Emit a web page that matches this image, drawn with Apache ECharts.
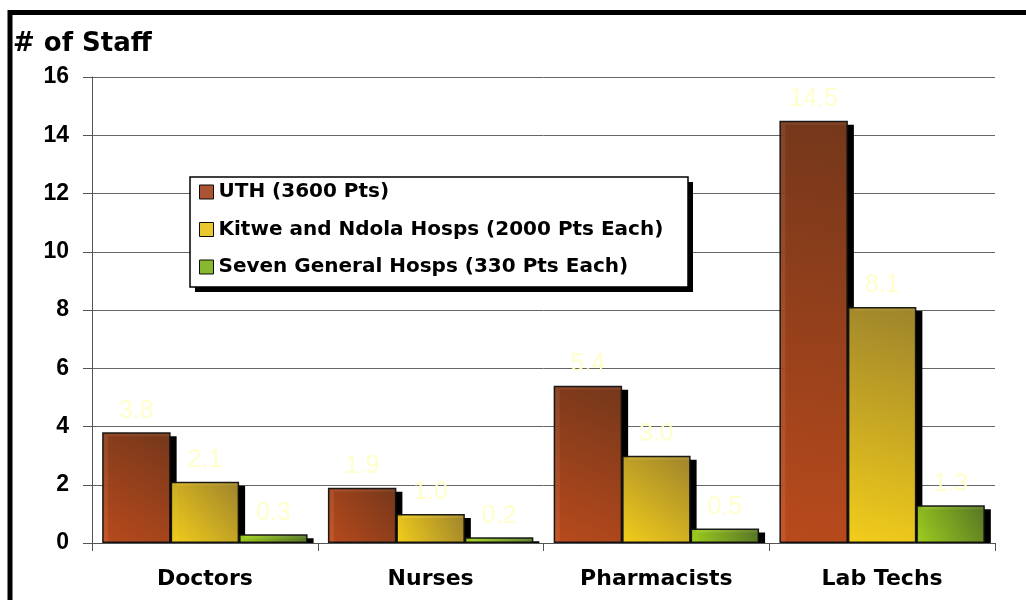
<!DOCTYPE html>
<html><head><meta charset="utf-8">
<script src="https://cdn.jsdelivr.net/npm/echarts@6/dist/echarts.min.js"></script>
<style>html,body{margin:0;padding:0;background:#fff}#c{width:1026px;height:600px}</style>
</head><body><div id="c"></div>
<script>
const categories = ['Doctors', 'Nurses', 'Pharmacists', 'Lab Techs'];
const seriesNames = ['UTH (3600 Pts)', 'Kitwe and Ndola Hosps (2000 Pts Each)', 'Seven General Hosps (330 Pts Each)'];
const uth = [3.8, 1.9, 5.4, 14.5];
const kitweNdola = [2.1, 1.0, 3.0, 8.1];
const general = [0.3, 0.2, 0.5, 1.3];
const yTicks = [0, 2, 4, 6, 8, 10, 12, 14, 16];

const GAP = 0.09;
function grad(light, dark) {
  return new echarts.graphic.LinearGradient(0, 1, 1, 0, [
    {offset: 0, color: light}, {offset: 1, color: dark}
  ]);
}
const fills = [grad('#C24E1E', '#7A3A1C'), grad('#FFD81C', '#A68A2E'), grad('#A6D820', '#5A7A26')];
const legendColors = ['#A84A26', '#E8C422', '#82B424'];
const data = [uth, kitweNdola, general];

const shadowData = [];
data.forEach((arr, s) => arr.forEach((v, c) => shadowData.push([c, v, s])));

const boldDV = 'DejaVu Sans, Verdana, sans-serif';
const arial = 'Liberation Sans, Arial, sans-serif';

const chart = echarts.init(document.getElementById('c'), null, {renderer: 'canvas'});
chart.setOption({
  animation: false,
  backgroundColor: '#fff',
  grid: {left: 92, right: 31, top: 77, bottom: 57, containLabel: false},
  title: {text: '# of Staff', left: 13, top: 31, padding: 0,
    textStyle: {fontFamily: boldDV, fontWeight: 'bold', fontSize: 26, color: '#000'}},
  legend: {
    orient: 'vertical', left: 199, top: 182, itemGap: 17.5, z: 10,
    icon: 'rect', itemWidth: 14, itemHeight: 14, padding: 0,
    backgroundColor: 'transparent', borderWidth: 0,
    textStyle: {fontFamily: boldDV, fontWeight: 'bold', fontSize: 20, color: '#000'},
    data: seriesNames.map((n, i) => ({name: n, itemStyle: {color: legendColors[i], borderColor: '#000', borderWidth: 1}}))
  },
  xAxis: {
    type: 'category', data: categories,
    axisLine: {lineStyle: {color: '#555', width: 1}},
    axisTick: {show: true, length: 8, lineStyle: {color: '#555'}},
    axisLabel: {fontFamily: boldDV, fontWeight: 'bold', fontSize: 22, color: '#000', margin: 25}
  },
  yAxis: {
    type: 'value', min: yTicks[0], max: yTicks[yTicks.length - 1], interval: 2,
    axisLine: {show: true, lineStyle: {color: '#555'}},
    axisTick: {show: true, length: 9, lineStyle: {color: '#555'}},
    splitLine: {lineStyle: {color: '#666', width: 1}},
    axisLabel: {fontFamily: arial, fontWeight: 'bold', fontSize: 23, color: '#000', margin: 23}
  },
  series: data.map((d, i) => ({
    name: seriesNames[i], type: 'bar', data: d, z: 3,
    barGap: '0%', barCategoryGap: (GAP * 100) + '%',
    itemStyle: {color: fills[i], borderColor: '#111', borderWidth: 1.5, opacity: 0.95},
    label: {show: true, position: 'top', distance: 9, formatter: p => p.value.toFixed(1),
      fontFamily: arial, fontSize: 25, color: '#FFFFC8'}
  })).concat([{
    type: 'custom', z: 2, silent: true, data: shadowData,
    encode: {x: 0, y: 1},
    renderItem: function (params, api) {
      const c = api.value(0), v = api.value(1), s = api.value(2);
      const base = api.coord([c, 0]);
      const top = api.coord([c, v]);
      const catW = api.size([1, 0])[0];
      const bw = catW * (1 - GAP) / 3;
      const x = base[0] - catW * (1 - GAP) / 2 + s * bw;
      return {type: 'rect', shape: {x: x + 6, y: top[1] + 4, width: bw, height: Math.max(0, base[1] - top[1] - 4)},
        style: {fill: '#000'}};
    }
  }]),
  graphic: [
    {type: 'rect', z: 5, shape: {x: 195, y: 182, width: 498, height: 110}, style: {fill: '#000'}},
    {type: 'rect', z: 6, shape: {x: 190, y: 177, width: 498, height: 110}, style: {fill: '#fff', stroke: '#000', lineWidth: 1.5}},
    {type: 'rect', z: 100, shape: {x: 10, y: 12.5, width: 1100, height: 700}, style: {fill: 'none', stroke: '#000', lineWidth: 5}}
  ]
});
</script></body></html>
